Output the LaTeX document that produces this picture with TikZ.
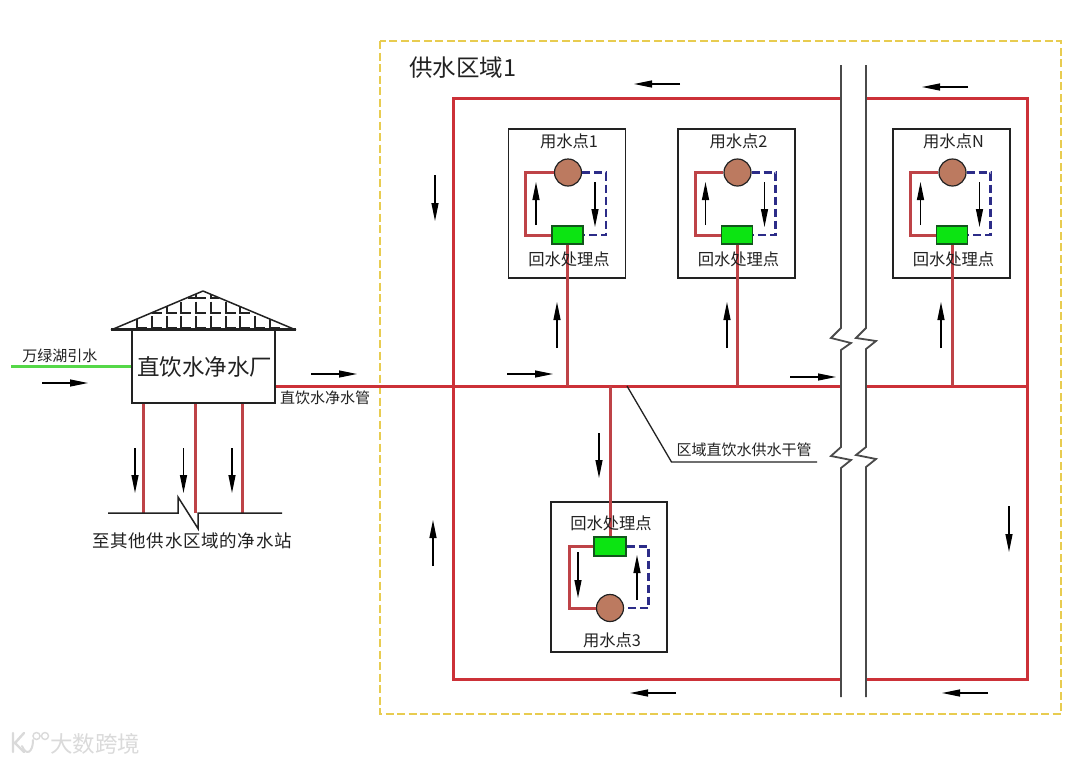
\documentclass[tikz,border=0pt]{standalone}
\usepackage{fontspec}
\setmainfont{Noto Sans CJK SC}
\usetikzlibrary{arrows.meta}
\definecolor{pipered}{HTML}{CC3138}
\definecolor{darkred}{HTML}{BE4347}
\definecolor{lakegreen}{HTML}{55D848}
\definecolor{zoneyellow}{HTML}{E8CC50}
\definecolor{returnnavy}{HTML}{2C2C88}
\definecolor{greenbox}{HTML}{0CE412}
\definecolor{greenedge}{HTML}{12551C}
\definecolor{pointbrown}{HTML}{BC7A60}
\definecolor{ink}{HTML}{222222}
\definecolor{breakgrey}{HTML}{4A4A4A}
\definecolor{markgrey}{HTML}{DADADA}
\newcommand{\fs}[1]{\fontsize{#1}{#1}\selectfont}
\tikzset{
  pipe/.style={draw=pipered,line width=3pt},
  feeder/.style={draw=darkred,line width=3pt},
  localpipe/.style={draw=darkred,line width=3pt},
  returnpipe/.style={draw=returnnavy,line width=2.6pt,dash pattern=on 8pt off 4pt},
  flow/.style={draw=black,line width=1.2pt,-{Stealth[length=18pt,width=7pt,inset=0pt]}},
  unitbox/.style={draw=ink,line width=1.5pt,fill=white,inner sep=0pt},
  pointdot/.style={circle,draw=ink,line width=1.2pt,fill=pointbrown,minimum size=27pt,inner sep=0pt},
  treat/.style={draw=greenedge,line width=1.1pt,fill=greenbox,minimum width=31pt,minimum height=18pt,inner sep=0pt},
  lbl/.style={text=ink,inner sep=0pt,font=\fs{15}},
  unitlbl/.style={text=ink,inner sep=0pt,font=\fs{16.3}},
  breakline/.style={draw=breakgrey,line width=1.8pt,line join=miter},
  thinline/.style={draw=ink,line width=1.3pt}
}
% upper-type water point: dx, name, title
\newcommand{\upperunit}[3]{%
\begin{scope}[shift={(#1,0)}]
  \node[unitbox,minimum width=117pt,minimum height=149pt] (#2box) at (567,203.5) {};
  \coordinate (#2low) at (568,386);
  \node[treat] (#2treat) at (567.5,235) {};
  \draw[localpipe] (#2treat.south) -- (#2treat.south |- #2low);
  \node[pointdot] (#2dot) at (568,172.5) {};
  \draw[localpipe] (#2dot.west) -- ++(-28,0) |- (#2treat.west);
  \draw[returnpipe] (#2dot.east) -- ++(24,0) |- (#2treat.east);
  \node[unitlbl] (#2title) at (569,141) {#3};
  \node[unitlbl] (#2label) at (569,259) {回水处理点};
  \coordinate (#2ua) at (536,225); \coordinate (#2ub) at (536,182);
  \coordinate (#2da) at (595,182); \coordinate (#2db) at (595,227);
  \draw[flow] (#2ua) -- (#2ub);
  \draw[flow] (#2da) -- (#2db);
\end{scope}}
\begin{document}
\begin{tikzpicture}[x=1pt,y=-1pt]
\useasboundingbox (0,0) rectangle (1080,764);
\fill[white] (0,0) rectangle (1080,764);

% supply zone
\draw[draw=zoneyellow,line width=1.5pt,dash pattern=on 8pt off 3.5pt] (380,41) rectangle (1061,714);
\node[text=ink,inner sep=0pt,font=\fs{23.5}] (zonetitle) at (463,68) {供水区域1};

% plant
\coordinate (gl) at (11,366);
\coordinate (f1) at (143,513); \coordinate (f2) at (195.5,513); \coordinate (f3) at (242,513);
\coordinate (j0) at (453,386); \coordinate (j9) at (840,386); \coordinate (j10) at (865,386); \coordinate (j11) at (1027,386);
\coordinate (j3) at (610,386);

% loop
\coordinate (lt) at (453,98); \coordinate (lb) at (453,679);
\coordinate (mt1) at (840,98); \coordinate (mt2) at (865,98);
\coordinate (mb1) at (840,679); \coordinate (mb2) at (865,679);
\coordinate (rt) at (1027,98); \coordinate (rb) at (1027,679);
\draw[pipe] (mt1) -- (lt) -- (lb) -- (mb1);
\draw[pipe] (mt2) -- (rt) -- (rb) -- (mb2);
\draw[pipe] (j10) -- (j11);

% roof
\fill[white] (111,330) -- (203,291) -- (296,330) -- cycle;
\begin{scope}
  \clip (111,330) -- (203,291) -- (296,330) -- cycle;
  \foreach \x in {137,152,167,181,196,211,226,240,255,270}
    \draw[thinline,line join=miter] (\x,316) -- (\x,328) -- ++(10,0);
  \foreach \x in {167,181,196,211,226,240}
    \draw[thinline,line join=miter] (\x,301.5) -- (\x,313) -- ++(10,0);
  \draw[thinline] (152,313) -- (162,313);
  \draw[thinline,line join=miter] (188,298) -- (196,298) (196,293) -- (196,298) -- (206,298) (211,293) -- (211,298) -- (219,298);
\end{scope}
\draw[draw=ink,line width=1.5pt,line join=miter] (203,291) -- (111,330);
\draw[draw=ink,line width=1.5pt,line join=miter] (203,291) -- (296,330);
\draw[draw=ink,line width=2.2pt] (111,329.5) -- (296,329.5);

\node[draw=ink,line width=1.6pt,fill=white,minimum width=143.5pt,minimum height=73pt,inner sep=0pt,text=ink,font=\fs{22.5}] (plant) at (203.5,366.5) {\hspace*{2pt}直饮水净水厂};

\draw[draw=lakegreen,line width=3pt] (gl) -- (gl -| plant.west);
\node[lbl] (lakelabel) at (60,356) {万绿湖引水};
\draw[pipe] (plant.east |- j0) -- (j9);
\node[lbl] (mainlabel) at (325,397.5) {直饮水净水管};

\draw[feeder] (f1 |- plant.south) -- (f1);
\draw[feeder] (f2 |- plant.south) -- (f2);
\draw[feeder] (f3 |- plant.south) -- (f3);
\coordinate (bl) at (108,513); \coordinate (br) at (282,513);
\draw[draw=ink,line width=1.5pt,line join=miter] (bl) -- (178,513) -- (178,497) -- (198,528.5) -- (198,513) -- (br);
\node[text=ink,inner sep=0pt,font={\fs{17.5}\addfontfeature{LetterSpace=4}}] (stations) at (192,541) {至其他供水区域的净水站};

% stems and units
\upperunit{0}{a}{用水点1}
\upperunit{169.5}{b}{用水点2}
\upperunit{384.5}{n}{用水点N}

% lower unit
\node[unitbox,minimum width=116pt,minimum height=150pt] (cbox) at (609,577) {};
\node[treat,minimum width=32pt,minimum height=19pt] (ctreat) at (610,546.5) {};
\draw[localpipe] (j3) -- (ctreat.north);
\node[pointdot] (cdot) at (610,608) {};
\draw[localpipe] (ctreat.west) -- ++(-24,0) |- (cdot.west);
\draw[returnpipe] (ctreat.east) -- ++(22,0) |- (cdot.east);
\node[unitlbl] (clabel) at (611,523) {回水处理点};
\node[unitlbl] (ctitle) at (612,640) {用水点3};
\coordinate (cda) at (578,552); \coordinate (cdb) at (578,598);
\coordinate (cua) at (637,600); \coordinate (cub) at (637,555);
\draw[flow] (cda) -- (cdb);
\draw[flow] (cua) -- (cub);

% trunk leader
\coordinate (lead0) at (627,386); \coordinate (lead1) at (671.5,462); \coordinate (lead2) at (817,462);
\draw[thinline] (lead0) -- (lead1) -- (lead2);
\node[lbl] (trunklabel) at (744,449.5) {区域直饮水供水干管};

% break lines
\coordinate (ba1) at (841,65); \coordinate (ba2) at (841,697);
\coordinate (bb1) at (866,65); \coordinate (bb2) at (866,697);
\draw[breakline] (ba1) -- (841,328) -- (831,338) -- (851,343) -- (841,350) -- (841,447) -- (831,456) -- (851,460) -- (841,468) -- (ba2);
\draw[breakline] (bb1) -- (866,328) -- (856,338) -- (876,341) -- (866,349) -- (866,447) -- (856,455) -- (876,459) -- (866,467) -- (bb2);

% flow arrows
\foreach \xa/\ya/\xb/\yb in {
  42/383/88/383, 311/374/357/374, 135/448/135/493, 183.5/448/183.5/493, 232/448/232/493,
  680/84/634/84, 968/87/922/87, 676/693/630/693, 988/693/942/693,
  435/175/435/221, 433/566/433/520, 1009/506/1009/552,
  507/374/553/374, 790/377/836/377,
  557/348/557/302, 727/348/727/302, 941/348/941/302, 599/433/599/478}
  \draw[flow] (\xa,\ya) -- (\xb,\yb);

% watermark
\draw[draw=markgrey,line width=2.4pt,line cap=round] (13,733) -- (13,752) (24,733) -- (15,743) -- (24,752);
\draw[draw=markgrey,line width=2pt,line cap=round] (22,746) .. controls (26,756) and (33,753) .. (33,740);
\draw[draw=markgrey,line width=1.4pt] (36.5,736) circle (3.5pt) (45,736) circle (3.5pt);
\node[text=markgrey,inner sep=0pt,font=\fs{22.5}] (mark) at (95,744) {大数跨境};
\end{tikzpicture}
\end{document}
